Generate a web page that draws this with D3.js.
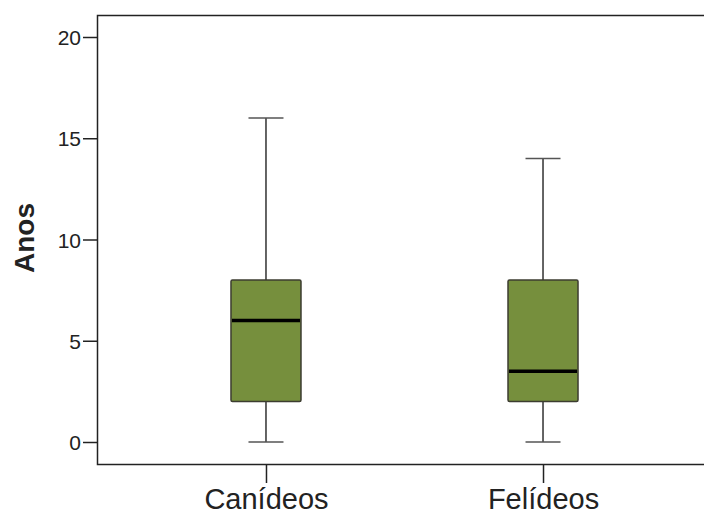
<!DOCTYPE html>
<html>
<head>
<meta charset="utf-8">
<script src="https://cdn.jsdelivr.net/npm/d3@7/dist/d3.min.js"></script>
<style>
  html, body { margin: 0; padding: 0; background: #fff; }
  svg { display: block; }
  text { font-family: "Liberation Sans", Arial, sans-serif; fill: #222; }
</style>
</head>
<body>
<svg id="chart" width="704" height="516"></svg>
<script>
const categories = ["Canídeos", "Felídeos"];
const whiskerLow  = [0, 0];
const q1          = [2, 2];
const median      = [6, 3.5];
const q3          = [8, 8];
const whiskerHigh = [16, 14];
const yTicks = [0, 5, 10, 15, 20];
const yLabel = "Anos";

const W = 704, H = 516;
const frame = { left: 97, top: 15, right: 712, bottom: 464 };

const svg = d3.select("#chart");

const y = d3.scaleLinear().domain([0, 20]).range([442, 37]);
const x = d3.scalePoint().domain(categories).range([frame.left, frame.right]).padding(0.61);
const boxW = x.step() * 0.2527;
const capW = boxW / 2;

// frame
svg.append("rect")
  .attr("x", frame.left + 0.5).attr("y", frame.top + 0.5)
  .attr("width", frame.right - frame.left).attr("height", frame.bottom - frame.top)
  .attr("fill", "none").attr("stroke", "#222").attr("stroke-width", 1.5);

// y axis
const yAxis = d3.axisLeft(y).tickValues(yTicks).tickSize(14).tickPadding(2).tickFormat(d3.format("d"));
const gy = svg.append("g").attr("transform", `translate(${frame.left},0)`).call(yAxis);
gy.select(".domain").remove();
gy.selectAll(".tick line").attr("stroke", "#222").attr("stroke-width", 1.5);
gy.selectAll(".tick text").style("font-size", "21px").attr("fill", "#222").attr("dy", "0.36em");

// x axis
const xAxis = d3.axisBottom(x).tickSize(19).tickPadding(5);
const gx = svg.append("g").attr("transform", `translate(0,${frame.bottom})`).call(xAxis);
gx.select(".domain").remove();
gx.selectAll(".tick line").attr("stroke", "#222").attr("stroke-width", 1.5);
gx.selectAll(".tick text").style("font-size", "29px").attr("fill", "#222").attr("dy", "0.72em");

// y label
svg.append("text")
  .attr("transform", `translate(34,238) rotate(-90)`)
  .attr("text-anchor", "middle")
  .style("font-size", "28px").style("font-weight", "bold")
  .text(yLabel);

// boxes
const data = categories.map((c, i) => ({
  c, lo: whiskerLow[i], q1: q1[i], med: median[i], q3: q3[i], hi: whiskerHigh[i]
}));

const g = svg.append("g");
data.forEach(d => {
  const cx = x(d.c);
  // whiskers
  g.append("line").attr("x1", cx).attr("x2", cx).attr("y1", y(d.hi)).attr("y2", y(d.q3))
    .attr("stroke", "#111").attr("stroke-width", 1.3);
  g.append("line").attr("x1", cx).attr("x2", cx).attr("y1", y(d.q1)).attr("y2", y(d.lo))
    .attr("stroke", "#111").attr("stroke-width", 1.3);
  // caps
  [d.hi, d.lo].forEach(v => {
    g.append("line").attr("x1", cx - capW / 2).attr("x2", cx + capW / 2)
      .attr("y1", y(v)).attr("y2", y(v))
      .attr("stroke", "#555").attr("stroke-width", 1.5);
  });
  // box
  g.append("rect")
    .attr("x", cx - boxW / 2).attr("y", y(d.q3))
    .attr("width", boxW).attr("height", y(d.q1) - y(d.q3))
    .attr("rx", 1.5)
    .attr("fill", "#768f3d").attr("stroke", "#3c3c30").attr("stroke-width", 1.5);
  // median
  g.append("line").attr("x1", cx - boxW / 2 + 1).attr("x2", cx + boxW / 2 - 1)
    .attr("y1", y(d.med)).attr("y2", y(d.med))
    .attr("stroke", "#000").attr("stroke-width", 3.5);
});
</script>
</body>
</html>
